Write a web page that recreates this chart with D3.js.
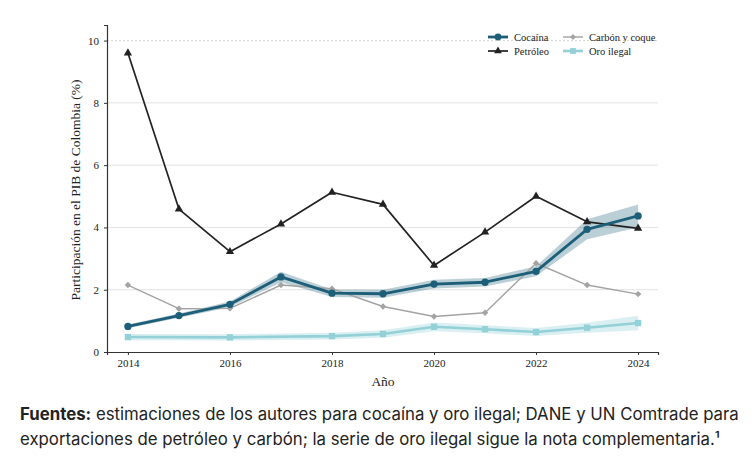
<!DOCTYPE html>
<html>
<head>
<meta charset="utf-8">
<script src="https://cdn.jsdelivr.net/npm/d3@7"></script>
<style>
  body { margin: 0; background: #fff; }
  #chart { width: 755px; height: 457px; position: relative; }
  .note { position: absolute; left: 20px; top: 402px; width: 735px; font-family: Inter, sans-serif;
          font-size: 16.8px; line-height: 25px; color: #222; }
  .note b { font-weight: 700; }
</style>
</head>
<body>
<div id="chart">
  <div class="note"><b>Fuentes:</b> estimaciones de los autores para cocaína y oro ilegal; DANE y UN Comtrade para exportaciones de petróleo y carbón; la serie de oro ilegal sigue la nota complementaria.¹</div>
</div>
<script>
// years on the x axis
const years = [2014, 2015, 2016, 2017, 2018, 2019, 2020, 2021, 2022, 2023, 2024]

// series (% of GDP)
const cocaina     = [0.82, 1.17, 1.53, 2.41, 1.89, 1.87, 2.18, 2.24, 2.59, 3.94, 4.37]
const cocainaLow  = [0.76, 1.10, 1.44, 2.24, 1.77, 1.74, 2.04, 2.10, 2.43, 3.62, 4.00]
const cocainaHigh = [0.88, 1.24, 1.62, 2.58, 2.01, 2.00, 2.32, 2.38, 2.75, 4.26, 4.74]
const petroleo    = [9.60, 4.59, 3.22, 4.11, 5.13, 4.74, 2.78, 3.85, 5.00, 4.18, 3.97]
const carbon      = [2.15, 1.39, 1.40, 2.15, 2.03, 1.46, 1.14, 1.26, 2.85, 2.15, 1.86]

const oroYears = [2014, 2016, 2018, 2019, 2020, 2021, 2022, 2023, 2024]
const oro      = [0.48, 0.47, 0.51, 0.58, 0.81, 0.73, 0.64, 0.78, 0.93]
const oroLow   = [0.38, 0.37, 0.40, 0.46, 0.67, 0.60, 0.51, 0.62, 0.70]
const oroHigh  = [0.58, 0.57, 0.62, 0.70, 0.95, 0.86, 0.77, 0.94, 1.16]

const yTicks = [0, 2, 4, 6, 8, 10]
const xTicks = [2014, 2016, 2018, 2020, 2022, 2024]

const W = 755, H = 457
const serif = '"Liberation Serif", "DejaVu Serif", serif'

const svg = d3.select('#chart').append('svg')
  .attr('width', W).attr('height', H)
  .style('position', 'absolute').style('left', 0).style('top', 0)

const x = d3.scaleLinear().domain([2013.59, 2024.39]).range([107, 658])
const y = d3.scaleLinear().domain([0, 10.5]).range([352, 25])

// grid
svg.append('g').selectAll('line')
  .data(yTicks.filter(d => d > 0))
  .enter().append('line')
    .attr('x1', 107).attr('x2', 658)
    .attr('y1', d => y(d)).attr('y2', d => y(d))
    .attr('stroke', d => d === 10 ? '#ccc' : '#e2e2e2')
    .attr('stroke-width', d => d === 10 ? 0.8 : 1)
    .attr('stroke-dasharray', d => d === 10 ? '2,2' : null)

// axes
const yAxis = svg.append('g').attr('transform', 'translate(107,0)')
  .call(d3.axisLeft(y).tickValues(yTicks).tickSize(3).tickPadding(5))
const xAxis = svg.append('g').attr('transform', 'translate(0,352)')
  .call(d3.axisBottom(x).tickValues(xTicks).tickFormat(d3.format('d')).tickSize(3).tickPadding(4))
;[yAxis, xAxis].forEach(g => {
  g.selectAll('text').attr('font-family', serif).attr('font-size', 11).attr('fill', '#222')
  g.selectAll('line').attr('stroke', '#333')
  g.select('.domain').attr('stroke', '#333').attr('stroke-width', 1.2)
})

svg.append('text')
  .attr('transform', 'translate(80,190) rotate(-90)')
  .attr('text-anchor', 'middle')
  .attr('font-family', serif).attr('font-size', 13.5).attr('fill', '#222')
  .text('Participación en el PIB de Colombia (%)')

svg.append('text')
  .attr('x', 383).attr('y', 386)
  .attr('text-anchor', 'middle')
  .attr('font-family', serif).attr('font-size', 13.5).attr('fill', '#222')
  .text('Año')

// bands
const band = d3.area().x(d => x(d.x)).y0(d => y(d.lo)).y1(d => y(d.hi))

svg.append('path')
  .attr('d', band(oroYears.map((yr, i) => ({ x: yr, lo: oroLow[i], hi: oroHigh[i] }))))
  .attr('fill', '#93d0d8').attr('opacity', 0.35)

svg.append('path')
  .attr('d', band(years.map((yr, i) => ({ x: yr, lo: cocainaLow[i], hi: cocainaHigh[i] }))))
  .attr('fill', '#1d5f78').attr('opacity', 0.3)

const line = d3.line().x(d => x(d[0])).y(d => y(d[1]))

function drawSeries(xs, vals, color, width, symbol, size) {
  const pts = xs.map((yr, i) => [yr, vals[i]])
  svg.append('path').attr('d', line(pts))
    .attr('fill', 'none').attr('stroke', color).attr('stroke-width', width)
    .attr('stroke-linejoin', 'round')
  svg.append('g').selectAll('path')
    .data(pts)
    .enter().append('path')
      .attr('transform', d => 'translate(' + x(d[0]) + ',' + y(d[1]) + ')')
      .attr('d', d3.symbol().type(symbol).size(size))
      .attr('fill', color)
}

drawSeries(years, carbon, '#a3a3a3', 1.4, d3.symbolDiamond2, 26)
drawSeries(oroYears, oro, '#93d0d8', 2.6, d3.symbolSquare, 40)
drawSeries(years, petroleo, '#222222', 1.7, d3.symbolTriangle, 30)
drawSeries(years, cocaina, '#1d5f78', 2.8, d3.symbolCircle, 42)

// legend
const legendItems = [
  { name: 'Cocaína', color: '#1d5f78', width: 2.8, symbol: d3.symbolCircle, size: 36, lx: 488, ly: 37 },
  { name: 'Petróleo', color: '#222222', width: 1.7, symbol: d3.symbolTriangle, size: 26, lx: 488, ly: 51 },
  { name: 'Carbón y coque', color: '#a3a3a3', width: 1.4, symbol: d3.symbolDiamond2, size: 22, lx: 563, ly: 37 },
  { name: 'Oro ilegal', color: '#93d0d8', width: 2.6, symbol: d3.symbolSquare, size: 34, lx: 563, ly: 51 }
]
const lg = svg.append('g').selectAll('g').data(legendItems).enter().append('g')
  .attr('transform', d => 'translate(' + d.lx + ',' + d.ly + ')')
lg.append('line').attr('x1', 0).attr('x2', 20)
  .attr('stroke', d => d.color).attr('stroke-width', d => d.width)
lg.append('path').attr('transform', 'translate(10,0)')
  .attr('d', d => d3.symbol().type(d.symbol).size(d.size)())
  .attr('fill', d => d.color)
lg.append('text').attr('x', 26).attr('y', 4)
  .attr('font-family', serif).attr('font-size', 10.5).attr('fill', '#222')
  .text(d => d.name)
</script>
</body>
</html>
